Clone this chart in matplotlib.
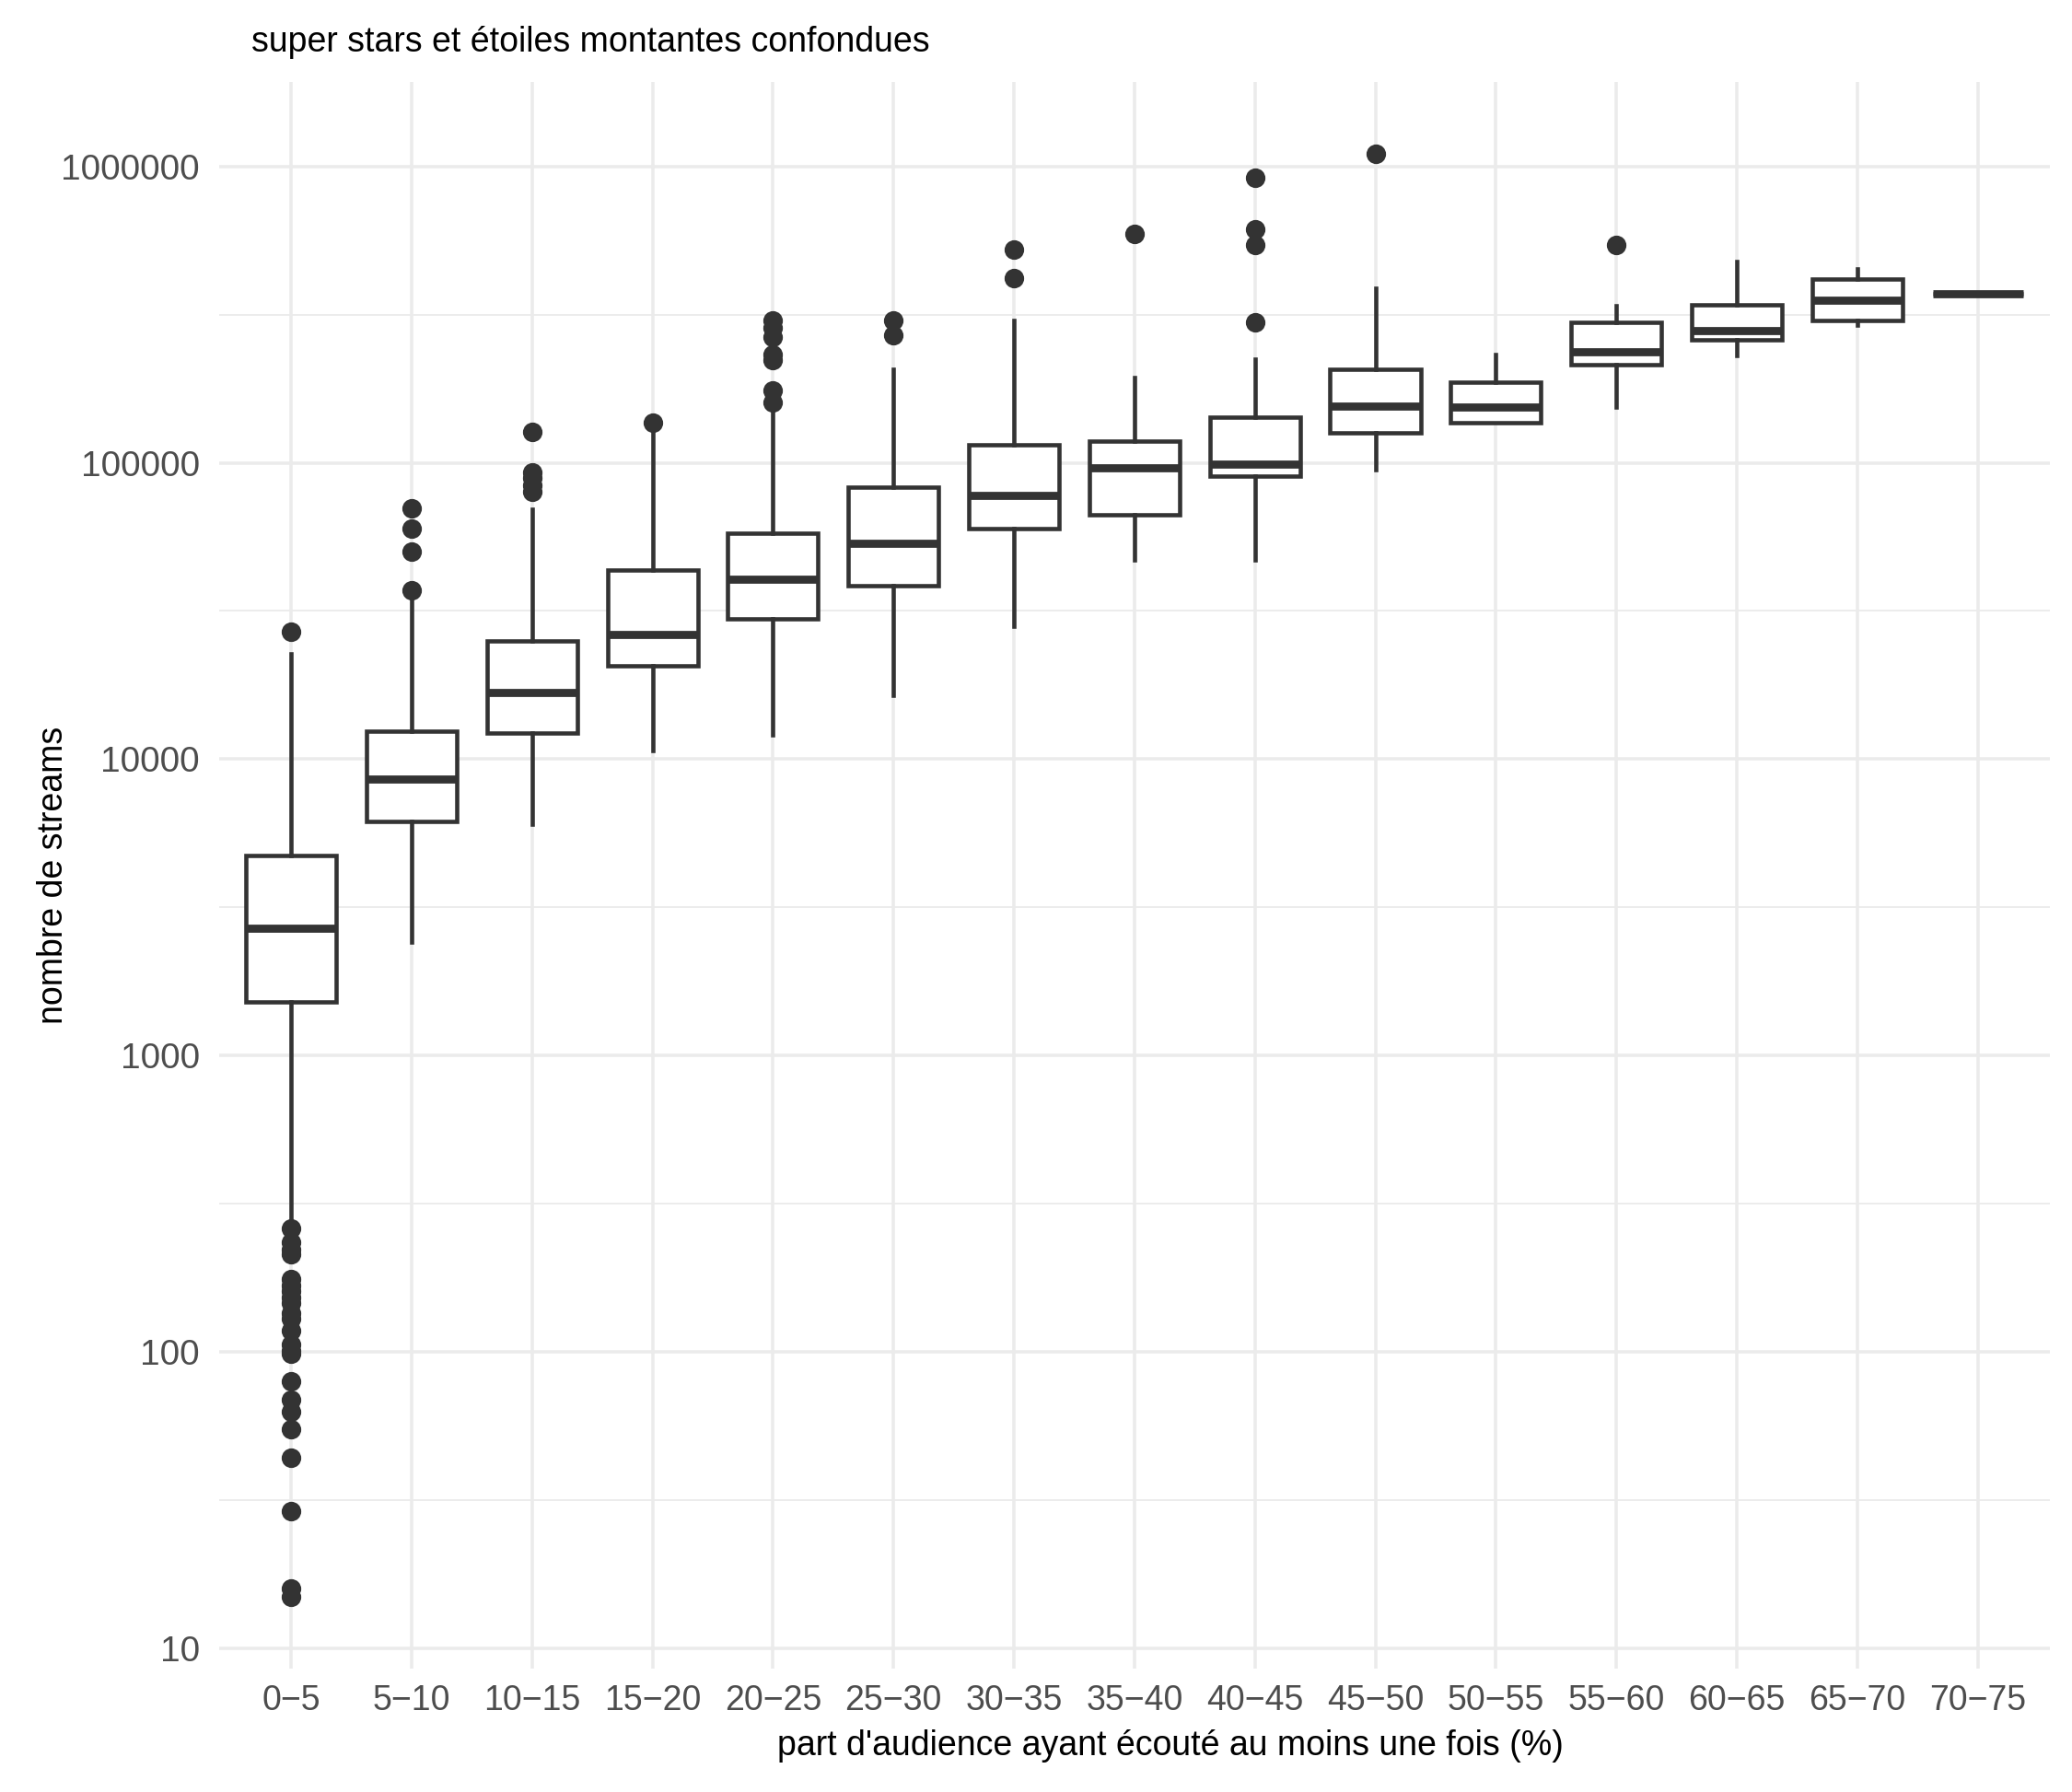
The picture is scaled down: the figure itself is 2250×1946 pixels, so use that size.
import numpy as np
import matplotlib
matplotlib.use('Agg')
import matplotlib.pyplot as plt
from matplotlib.ticker import FixedLocator, NullFormatter

plt.rcParams['font.family'] = ['Liberation Sans', 'DejaVu Sans']

#-------------------------------------------------------------------------------
# DATA (box stats per audience-share class)

cats = ['0\u22125', '5\u221210', '10\u221215', '15\u221220', '20\u221225', '25\u221230',
        '30\u221235', '35\u221240', '40\u221245', '45\u221250', '50\u221255', '55\u221260',
        '60\u221265', '65\u221270', '70\u221275']

q1 = [1515, 6180, 12250, 20700, 29800, 38400, 59800, 66800, 90100,
      126000, 137000, 214000, 259000, 303000, 372000]
med = [2700, 8580, 16850, 26400, 40400, 53500, 77700, 96000, 98600,
       155000, 154000, 236000, 279000, 354000, 372000]
q3 = [4750, 12400, 25000, 43400, 58000, 82600, 115000, 118500, 142000,
      207000, 187000, 297000, 341000, 416000, 372000]
whislo = [270, 2420, 6040, 10700, 12100, 16400, 28100, 47100, 47100,
          94600, 137000, 154000, 230000, 292000, 372000]
whishi = [22600, 34000, 69500, 126000, 150000, 207000, 301000, 194000, 223000,
          387000, 231000, 338000, 476000, 452000, 372000]

outliers = [
    [26900, 262, 235, 222, 214, 177, 168, 161, 153, 146, 135, 130, 118,
     106, 101, 99, 80, 69, 63, 55, 44, 29, 16, 15],
    [37200, 50100, 59800, 70000],
    [127000, 93000, 89000, 84000, 80000],
    [137000],
    [302000, 285000, 265000, 232000, 222000, 175000, 160000],
    [301000, 270000],
    [525000, 420000],
    [591000],
    [916000, 611000, 543000, 298000],
    [1100000],
    [],
    [543000],
    [],
    [],
    [],
]

title = 'super stars et \u00e9toiles montantes confondues'
xlabel = "part d'audience ayant \u00e9cout\u00e9 au moins une fois (%)"
ylabel = 'nombre de streams'

#-------------------------------------------------------------------------------
# PLOT

dark = '#333333'
gridc = '#EBEBEB'

fig = plt.figure(figsize=(7.5, 1946/300), dpi=300)
left, right, bottom, top = 0.1056, 0.9894, 0.0689, 0.9543
ax = fig.add_axes([left, bottom, right - left, top - bottom])

stats = []
for i in range(len(cats)):
    stats.append(dict(med=med[i], q1=q1[i], q3=q3[i], whislo=whislo[i],
                      whishi=whishi[i], fliers=np.array(outliers[i])))

pos = np.arange(1, len(cats) + 1)
ax.bxp(stats, positions=pos, widths=0.75, patch_artist=True, showcaps=False,
       boxprops=dict(facecolor='white', edgecolor=dark, linewidth=1.1),
       whiskerprops=dict(color=dark, linewidth=1.1),
       medianprops=dict(color=dark, linewidth=2.1, solid_capstyle='butt'),
       flierprops=dict(marker='o', markerfacecolor=dark, markeredgecolor=dark,
                       markersize=4.6, markeredgewidth=0.5),
       zorder=3)

ax.set_yscale('log')
allv = np.concatenate([np.concatenate([o for o in outliers if len(o)]), whislo, whishi])
lo, hi = np.log10(allv.min()), np.log10(allv.max())
pad = 0.05*(hi - lo)
ax.set_ylim(10**(lo - pad), 10**(hi + pad))
ax.set_xlim(0.4, len(cats) + 0.6)

majors = [10**k for k in range(1, 7)]
ax.yaxis.set_major_locator(FixedLocator(majors))
ax.set_yticklabels(['%d' % m for m in majors])
ax.yaxis.set_minor_locator(FixedLocator([10**(k + 0.5) for k in range(0, 7)]))
ax.yaxis.set_minor_formatter(NullFormatter())
ax.set_xticks(pos)
ax.set_xticklabels(cats)

ax.grid(True, which='major', color=gridc, linewidth=0.85, zorder=0)
ax.grid(True, which='minor', axis='y', color=gridc, linewidth=0.45, zorder=0)
ax.set_axisbelow(True)
for s in ax.spines.values():
    s.set_visible(False)
ax.tick_params(which='both', length=0)
ax.tick_params(axis='y', pad=5, labelsize=9.3, labelcolor='#4D4D4D')
ax.tick_params(axis='x', pad=4, labelsize=9.0, labelcolor='#4D4D4D')

fig.text(0.565, 0.0255, xlabel, fontsize=9.0, ha='center', va='center')
fig.text(0.0256, (top + bottom)/2, ylabel, fontsize=9.0, rotation=90,
         ha='center', va='center')
fig.text(0.1213, 0.9763, title, fontsize=9.0, ha='left', va='center')

fig.savefig('out.png', dpi=300, facecolor='white')
